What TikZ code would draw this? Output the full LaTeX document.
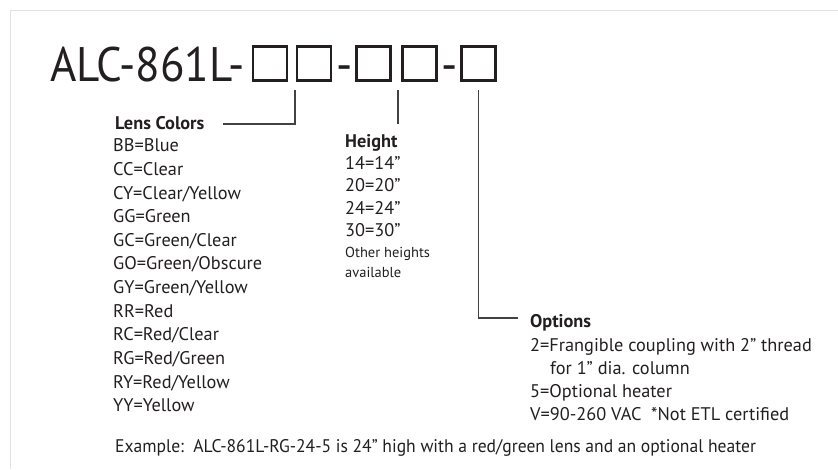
\documentclass[tikz,border=0pt]{standalone}
\usepackage{fontspec}
\setmainfont{PT Sans}
\newfontfamily\titlefont[FakeStretch=0.93]{PT Sans}
\newfontfamily\condfont[FakeStretch=0.96]{PT Sans}
\usetikzlibrary{positioning,calc}
\definecolor{InkBlack}{RGB}{35,31,32}
\definecolor{FrameGray}{RGB}{225,225,225}
\tikzset{
  codebox/.style={draw=InkBlack,line width=2.6pt,minimum width=34pt,minimum height=34.4pt,inner sep=0pt},
  titletext/.style={inner sep=0pt,text=InkBlack,font=\titlefont\fontsize{48.5}{50}\selectfont},
  lead/.style={draw=InkBlack!85,line width=1.2pt},
}
\tikzset{head/.style={anchor=base west,inner sep=0pt,text=InkBlack,font=\fontsize{18.3}{20}\selectfont\bfseries},
  item/.style={anchor=base west,inner sep=0pt,text=InkBlack,font=\fontsize{18.3}{20}\selectfont},
  smallitem/.style={anchor=base west,inner sep=0pt,text=InkBlack,font=\fontsize{14.5}{16}\selectfont}}

\begin{document}
\begin{tikzpicture}[x=1pt,y=-1pt]
\useasboundingbox (0,0) rectangle (838,469);
\draw[FrameGray,line width=1pt] (10,469) -- (10,10) -- (838,10);
% part number
\node[titletext,anchor=base west] (title) at (50,81) {ALC-861L-};
\node[codebox] (b1) at (270,63.5) {};
\node[codebox] (b2) at (314,63.5) {};
\node[titletext,anchor=base] (d1) at (344.5,81) {-};
\node[codebox] (b3) at (373.3,63.5) {};
\node[codebox] (b4) at (419.3,63.5) {};
\node[titletext,anchor=base] (d2) at (449.5,81) {-};
\node[codebox] (b5) at (478.7,63.5) {};
% lens colors
\node[head] (lens) at (115,129) {Lens Colors};
\node[item] (l1) at (113,151.7) {BB=Blue};
\node[item] (l2) at (113,175.3) {CC=Clear};
\node[item] (l3) at (113,199) {CY=Clear/Yellow};
\node[item] (l4) at (113,222.6) {GG=Green};
\node[item] (l5) at (113,246.3) {GC=Green/Clear};
\node[item] (l6) at (113,269.9) {GO=Green/Obscure};
\node[item] (l7) at (113,293.5) {GY=Green/Yellow};
\node[item] (l8) at (113,317.2) {RR=Red};
\node[item] (l9) at (113,340.8) {RC=Red/Clear};
\node[item] (l10) at (113,364.5) {RG=Red/Green};
\node[item] (l11) at (113,388.1) {RY=Red/Yellow};
\node[item] (l12) at (113,411.7) {YY=Yellow};
% height
\node[head] (height) at (345,147) {Height};
\node[item] (h1) at (345,169.3) {14=14”};
\node[item] (h2) at (345,191.7) {20=20”};
\node[item] (h3) at (345,214) {24=24”};
\node[item] (h4) at (345,236.7) {30=30”};
\node[smallitem] (h5) at (345,257) {Other heights};
\node[smallitem] (h6) at (345,277) {available};
% options
\node[head] (options) at (530,327) {Options};
\node[item] (o1) at (530,351) {2=Frangible coupling with 2” thread};
\node[item] (o2) at (550,374) {for 1” dia. column};
\node[item] (o3) at (530,397) {5=Optional heater};
\node[item] (o4) at (530,420) {V=90-260 VAC\ \ *Not ETL certified};
% example
\node[item,font=\condfont\fontsize{18.3}{20}\selectfont] (example) at (115,452)
  {Example:\ \ ALC-861L-RG-24-5 is 24” high with a red/green lens and an optional heater};
% leader lines
\coordinate (lensTop) at (295,90);
\coordinate (lensEnd) at (223,124);
\coordinate (htTop) at (398,90);
\coordinate (htEnd) at (398,124);
\coordinate (optTop) at (478.7,90);
\coordinate (optEnd) at (518,318);
\draw[lead] (lensTop) |- (lensEnd);
\draw[lead] (htTop) -- (htEnd);
\draw[lead] (optTop) |- (optEnd);
\end{tikzpicture}
\end{document}
